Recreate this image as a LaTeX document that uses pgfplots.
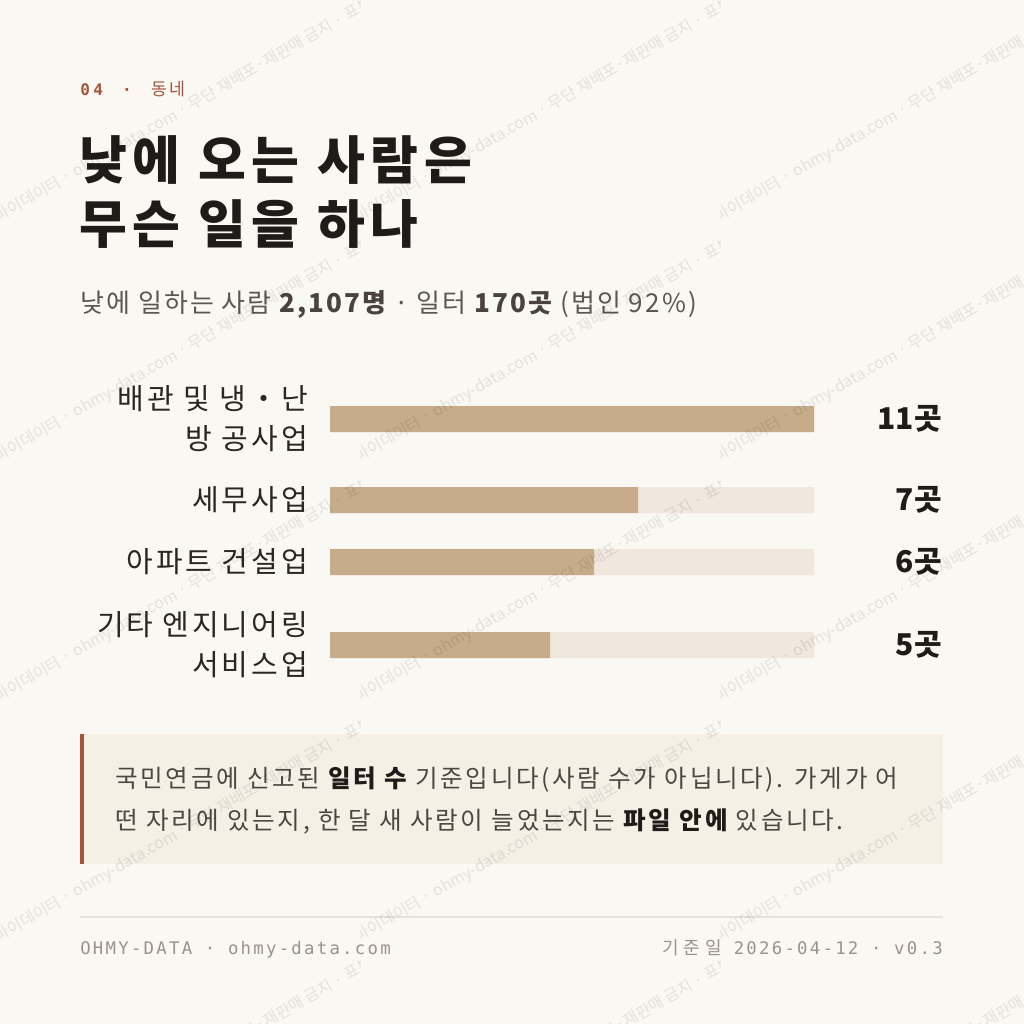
\documentclass[border=0pt]{standalone}
\usepackage{fontspec}
\usepackage{pgfplots}
\pgfplotsset{compat=1.18}
\setmainfont{Noto Sans CJK KR}
\setmonofont{DejaVu Sans Mono}
\definecolor{bg}{HTML}{FAF8F3}
\definecolor{track}{HTML}{F0E8DC}
\definecolor{barc}{HTML}{C8AB8A}
\definecolor{rust}{HTML}{A5553A}
\definecolor{notebg}{HTML}{F5EFE6}
\definecolor{titlec}{HTML}{1E1B18}
\definecolor{labc}{HTML}{2A2622}
\definecolor{subc}{HTML}{5E5750}
\definecolor{subb}{HTML}{4A433D}
\definecolor{notec}{HTML}{4D4741}
\definecolor{footc}{HTML}{9C9289}
\definecolor{rulec}{HTML}{E9E2D8}
\newcommand{\px}[2]{\fontsize{#1}{#2}\selectfont}
\tikzset{
  lab/.style={anchor=east, align=right, inner sep=0, text=labc, font=\px{21.75pt}{30pt}\addfontfeature{LetterSpace=10}, xshift=-16.5pt},
  val/.style={anchor=east, inner sep=0, text=titlec, font=\px{22.5pt}{26pt}\bfseries, xshift=96pt}}
\begin{document}
\begin{tikzpicture}[x=0.75pt,y=-0.75pt]
\fill[bg] (0,0) rectangle (1024,1024);
\useasboundingbox (0,0) rectangle (1024,1024);
% kicker
\node[anchor=base west, inner sep=0, text=rust] at (80,95) {\ttfamily\bfseries\px{12pt}{12pt}\addfontfeature{LetterSpace=22}04};
\node[anchor=base, inner sep=0, text=rust] at (127,95) {\ttfamily\bfseries\px{12pt}{12pt}·};
\node[anchor=base west, inner sep=0, text=rust] at (151,95) {\px{13pt}{13pt}\addfontfeature{LetterSpace=15}동네};
% title
\node[anchor=base west, inner sep=0, text=titlec] at (79,179) {\px{39pt}{48pt}\bfseries\addfontfeature{LetterSpace=11}낮에 오는 사람은};
\node[anchor=base west, inner sep=0, text=titlec] at (79,243) {\px{39pt}{48pt}\bfseries\addfontfeature{LetterSpace=11}무슨 일을 하나};
% subtitle
\node[anchor=base west, inner sep=0, text=subc] at (80,312) {\px{19.5pt}{24pt}\addfontfeature{LetterSpace=8}낮에 일하는 사람 \textcolor{subb}{\bfseries 2,107명} · 일터 \textcolor{subb}{\bfseries 170곳} (법인 92\%)};
% chart
\coordinate (A) at (330,380);
\begin{axis}[at={(A)}, anchor=north west, scale only axis, width=363pt, height=232.5pt,
  xmin=0, xmax=11, ymin=380, ymax=690, y dir=reverse, hide axis, clip=false]
\addplot[xbar, bar width=26, bar shift=0pt, fill=track, draw=none] coordinates {(11,419) (11,500) (11,562) (11,645)};
\addplot[xbar, bar width=26, bar shift=0pt, fill=barc, draw=none] coordinates {(11,419) (7,500) (6,562) (5,645)};
\node[lab] at (axis cs:0,419) {배관 및 냉・난\\방 공사업};
\node[lab] at (axis cs:0,500) {세무사업};
\node[lab] at (axis cs:0,562) {아파트 건설업};
\node[lab] at (axis cs:0,645) {기타 엔지니어링\\서비스업};
\node[val] at (axis cs:11,419) {11곳};
\node[val] at (axis cs:11,500) {7곳};
\node[val] at (axis cs:11,562) {6곳};
\node[val] at (axis cs:11,645) {5곳};
\end{axis}
% note box
\fill[notebg] (80,734) rectangle (943,864);
\fill[rust] (80,734) rectangle (84,864);
\node[anchor=base west, inner sep=0, text=notec] at (115,787) {\px{18.4pt}{24pt}\addfontfeature{LetterSpace=11}국민연금에 신고된 \textcolor{titlec}{\bfseries 일터 수} 기준입니다(사람 수가 아닙니다). 가게가 어};
\node[anchor=base west, inner sep=0, text=notec] at (115,829) {\px{18.4pt}{24pt}\addfontfeature{LetterSpace=11}떤 자리에 있는지, 한 달 새 사람이 늘었는지는 \textcolor{titlec}{\bfseries 파일 안에} 있습니다.};
% footer
\draw[rulec, line width=1.1pt] (80,917) -- (943,917);
\node[anchor=base west, inner sep=0, text=footc] at (80,954) {\ttfamily\px{13pt}{14pt}\addfontfeature{LetterSpace=13}OHMY-DATA · ohmy-data.com};
\node[anchor=base east, inner sep=0, text=footc] at (943,954) {\px{13.5pt}{14pt}\addfontfeature{LetterSpace=28}기준일\hspace{9pt}\ttfamily\px{13pt}{14pt}\addfontfeature{LetterSpace=13}2026-04-12 · v0.3};
% watermark
\foreach \tx in {0,360,720} {
  \foreach \ty in {0,240,480,720,960} {
    \begin{scope}
      \clip (\tx,\ty) rectangle ++(360,240);
      \node[anchor=base west, rotate=30, inner sep=0, text=black, opacity=0.09] at (\tx-14,\ty+230) {\px{12pt}{12pt}오마이데이터 · ohmy-data.com · 무단 재배포·재판매 금지 · 표본};
    \end{scope}
  }
}
\end{tikzpicture}
\end{document}
